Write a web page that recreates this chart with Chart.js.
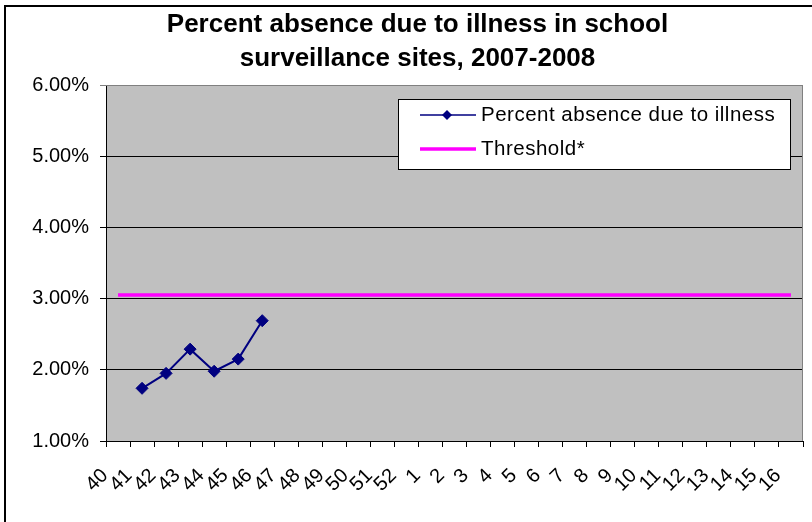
<!DOCTYPE html>
<html>
<head>
<meta charset="utf-8">
<script src="https://cdn.jsdelivr.net/npm/chart.js@4/dist/chart.umd.min.js"></script>
<style>
  body { margin: 0; background: #fff; }
  canvas { display: block; }
</style>
</head>
<body>
<canvas id="chart" width="812" height="522"></canvas>
<script>
// weeks of the 2007-2008 school season
const weeks = ['40', '41', '42', '43', '44', '45', '46', '47', '48', '49', '50', '51', '52',
               '1', '2', '3', '4', '5', '6', '7', '8', '9', '10', '11', '12', '13', '14', '15', '16'];

// percent absence due to illness (only weeks 41-46 reported so far)
const absence = [null, 1.74, 1.95, 2.29, 1.98, 2.15, 2.69, null, null, null, null, null, null,
                 null, null, null, null, null, null, null, null, null, null, null, null, null, null, null, null];

const threshold = [3.05, 3.05, 3.05, 3.05, 3.05, 3.05, 3.05, 3.05, 3.05, 3.05, 3.05, 3.05, 3.05,
                   3.05, 3.05, 3.05, 3.05, 3.05, 3.05, 3.05, 3.05, 3.05, 3.05, 3.05, 3.05, 3.05, 3.05, 3.05, 3.05];

const yTicks = [1, 2, 3, 4, 5, 6];

const FONT = "'Liberation Sans', Arial, sans-serif";

// white page, outer chart frame and grey plot background
const backdrop = {
    id: 'backdrop',
    beforeDraw(chart) {
        const ctx = chart.ctx;
        const a = chart.chartArea;
        ctx.save();
        ctx.fillStyle = '#fff';
        ctx.fillRect(0, 0, chart.width, chart.height);
        ctx.strokeStyle = '#000';
        ctx.lineWidth = 2;
        ctx.strokeRect(5, 6, chart.width + 20, chart.height + 20);
        ctx.fillStyle = '#c0c0c0';
        ctx.fillRect(a.left, a.top, a.right - a.left, a.bottom - a.top);
        ctx.restore();
    },
    beforeDatasetsDraw(chart) {
        const ctx = chart.ctx;
        const a = chart.chartArea;
        ctx.save();
        ctx.strokeStyle = '#808080';
        ctx.lineWidth = 1;
        ctx.beginPath();
        ctx.moveTo(a.left, a.top + 0.5);
        ctx.lineTo(a.right - 0.5, a.top + 0.5);
        ctx.lineTo(a.right - 0.5, a.bottom);
        ctx.stroke();
        ctx.restore();
    }
};

// boxed legend sitting inside the plot, like the spreadsheet one
const boxLegend = {
    id: 'boxLegend',
    afterDraw(chart) {
        const ctx = chart.ctx;
        const x = 398.5, y = 99.5, w = 392, h = 70;
        ctx.save();
        ctx.fillStyle = '#fff';
        ctx.fillRect(x, y, w, h);
        ctx.strokeStyle = '#000';
        ctx.lineWidth = 1;
        ctx.strokeRect(x, y, w, h);
        ctx.font = '20.5px ' + FONT;
        ctx.letterSpacing = '0.5px';
        ctx.textBaseline = 'middle';
        chart.data.datasets.forEach((ds, i) => {
            const ly = 115 + i * 34;
            ctx.strokeStyle = ds.borderColor;
            ctx.lineWidth = i === 0 ? 1.5 : 3.5;
            ctx.beginPath();
            ctx.moveTo(420, ly);
            ctx.lineTo(476, ly);
            ctx.stroke();
            if (ds.pointRadius > 0) {
                ctx.fillStyle = ds.pointBackgroundColor;
                ctx.beginPath();
                ctx.moveTo(447 - 5, ly);
                ctx.lineTo(447, ly - 5);
                ctx.lineTo(447 + 5, ly);
                ctx.lineTo(447, ly + 5);
                ctx.closePath();
                ctx.fill();
            }
            ctx.fillStyle = '#000';
            ctx.fillText(ds.label, 481, ly + 0.5);
        });
        ctx.restore();
    }
};

new Chart(document.getElementById('chart'), {
    type: 'line',
    data: {
        labels: weeks,
        datasets: [{
            label: 'Percent absence due to illness',
            data: absence,
            borderColor: '#000080',
            backgroundColor: '#000080',
            pointBackgroundColor: '#000080',
            pointBorderColor: '#000080',
            borderWidth: 2,
            pointStyle: 'rectRot',
            pointRadius: 6,
            pointBorderWidth: 1,
            tension: 0,
            spanGaps: false
        }, {
            label: 'Threshold*',
            data: threshold,
            borderColor: '#ff00ff',
            backgroundColor: '#ff00ff',
            borderWidth: 3.5,
            pointRadius: 0,
            tension: 0
        }]
    },
    options: {
        responsive: false,
        animation: false,
        layout: { padding: { left: 32, right: 9, top: 0, bottom: 0 } },
        plugins: {
            legend: { display: false },
            tooltip: { enabled: false },
            title: {
                display: true,
                text: ['Percent absence due to illness in school', 'surveillance sites, 2007-2008'],
                color: '#000',
                font: { family: FONT, size: 26, weight: 'bold', lineHeight: 1.3 },
                padding: { top: 8, bottom: 9.4 }
            }
        },
        scales: {
            x: {
                offset: true,
                grid: {
                    offset: true,
                    drawOnChartArea: false,
                    drawTicks: true,
                    tickLength: 6,
                    color: '#000'
                },
                border: { color: '#000', width: 1 },
                ticks: {
                    autoSkip: false,
                    minRotation: 45,
                    maxRotation: 45,
                    padding: 17,
                    labelOffset: -13,
                    color: '#000',
                    font: { family: FONT, size: 20 }
                },
                afterFit(scale) {
                    scale.height = 81;
                    scale.paddingLeft = 0;
                    scale.paddingRight = 0;
                }
            },
            y: {
                min: 1,
                max: 6,
                afterBuildTicks(scale) {
                    scale.ticks = yTicks.map(v => ({ value: v }));
                },
                grid: {
                    color: c => (c.tick && c.tick.value === 6 ? '#808080' : '#000'),
                    tickLength: 6,
                    drawTicks: true
                },
                border: { color: '#000', width: 1 },
                ticks: {
                    padding: 11,
                    color: '#000',
                    font: { family: FONT, size: 20 },
                    callback: v => v.toFixed(2) + '%'
                },
                afterFit(scale) {
                    scale.width = 74;
                }
            }
        }
    },
    plugins: [backdrop, boxLegend]
});
</script>
</body>
</html>
